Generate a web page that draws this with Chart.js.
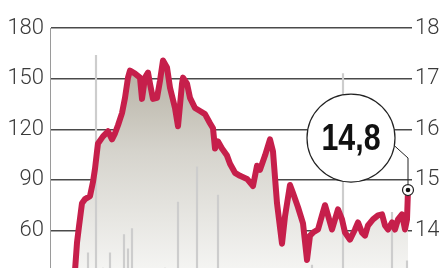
<!DOCTYPE html>
<html>
<head>
<meta charset="utf-8">
<script src="https://cdn.jsdelivr.net/npm/chart.js@4"></script>
<style>
  html, body { margin: 0; padding: 0; background: #ffffff; width: 439px; height: 268px; overflow: hidden; }
  #wrap { width: 439px; height: 351px; }
</style>
</head>
<body>
<div id="wrap"><canvas id="c" width="439" height="351"></canvas></div>
<script>
// ---- data ----
const days   = [24, 27, 29, 32, 35, 40, 43, 45, 47, 48, 53, 58, 62, 65, 68, 72, 75, 78, 80, 85, 90, 92, 95, 98, 100, 103, 107, 110, 113, 117, 120, 125, 128, 132, 133, 137, 140, 145, 150, 155, 160, 163, 165, 168, 172, 177, 180, 185, 190, 197, 203, 207, 210, 215, 220, 223, 227, 232, 235, 240, 243, 248, 253, 257, 260, 263, 268, 272, 275, 278, 282, 285, 288, 292, 295, 300, 305, 308, 312, 315, 318, 323, 328, 332, 335, 338, 342, 345, 348, 352, 355, 357, 358];
const prices = [28, 52.8, 62.4, 76.2, 78.6, 80.4, 88.8, 96.6, 106.8, 111.6, 115.8, 118.8, 114, 117.6, 122.4, 129.6, 138.6, 150.6, 154.8, 153, 150.6, 138, 150.6, 153.6, 147, 138, 138.6, 148.8, 160.8, 156.6, 144.6, 132.6, 121.8, 147, 150.6, 147, 138.6, 132.6, 130.8, 129, 123.6, 120.6, 108.6, 112.8, 108.6, 104.4, 99.6, 94.2, 92.4, 90.6, 86.4, 98.4, 96, 104.4, 114, 106.8, 76.2, 52.2, 68.4, 87, 82.2, 73.8, 64.2, 42.6, 57, 58.8, 60.6, 69, 75, 69, 60.6, 66.6, 72.6, 66.6, 58.8, 54.6, 60.6, 64.8, 58.8, 57, 63, 66.6, 69, 69.6, 63, 60.6, 64.8, 60.6, 66.6, 69.6, 60.6, 66.6, 84];
const volumeDays = [38, 46, 53, 60, 74, 78, 82, 115, 128, 147, 168, 262, 293, 342, 357];
const volumes    = [46.8, 163.8, 37.8, 46.8, 57.6, 49.2, 61.2, 37.8, 76.8, 97.8, 81, 39.6, 153, 70.8, 42];
const leftTicks  = [0, 30, 60, 90, 120, 150, 180];
const rightTicks = [13, 14, 15, 16, 17, 18];

const linePts = days.map((d, i) => ({ x: d, y: prices[i] }));
const volPts  = volumeDays.map((d, i) => ({ x: d, y: volumes[i] }));

const RED = '#c61f4b';
const TICKFONT = "Roboto, 'Liberation Sans', sans-serif";
const BOLDFONT = "'Liberation Sans', Arial, sans-serif";

const callout = {
  id: 'callout',
  afterDatasetsDraw(chart) {
    const ctx = chart.ctx;
    const meta = chart.getDatasetMeta(0);
    const last = meta.data[meta.data.length - 1];
    const px = last.x, py = last.y;
    const cx = px - 57, cy = py - 52, r = 44;
    const rightVal = chart.scales.yR.getValueForPixel(py);
    const label = rightVal.toFixed(1).replace('.', ',');
    ctx.save();
    const a = 10 * Math.PI / 180;
    ctx.strokeStyle = '#222';
    ctx.lineWidth = 1;
    ctx.beginPath();
    ctx.moveTo(cx + r * Math.cos(a), cy + r * Math.sin(a));
    ctx.lineTo(px, py - 32);
    ctx.lineTo(px, py - 5);
    ctx.stroke();
    ctx.beginPath();
    ctx.arc(cx, cy, r, 0, Math.PI * 2);
    ctx.fillStyle = '#ffffff';
    ctx.fill();
    ctx.strokeStyle = '#222';
    ctx.lineWidth = 1.2;
    ctx.stroke();
    ctx.save();
    ctx.translate(cx, cy + 2);
    ctx.scale(0.82, 1);
    ctx.fillStyle = '#111';
    ctx.font = "bold 37px " + BOLDFONT;
    ctx.textAlign = 'center';
    ctx.textBaseline = 'middle';
    ctx.fillText(label, 0, 0);
    ctx.restore();
    ctx.beginPath();
    ctx.arc(px, py, 5.5, 0, Math.PI * 2);
    ctx.fillStyle = '#ffffff';
    ctx.fill();
    ctx.lineWidth = 1.2;
    ctx.strokeStyle = '#222';
    ctx.stroke();
    ctx.beginPath();
    ctx.arc(px, py, 2.3, 0, Math.PI * 2);
    ctx.fillStyle = '#111';
    ctx.fill();
    ctx.restore();
  }
};

new Chart(document.getElementById('c'), {
  data: {
    datasets: [
      {
        type: 'line', data: linePts, yAxisID: 'y', order: 0,
        borderColor: RED, borderWidth: 6, borderJoinStyle: 'round', borderCapStyle: 'round',
        pointRadius: 0, fill: false, tension: 0
      },
      {
        type: 'bar', data: volPts, yAxisID: 'yv', order: 1,
        backgroundColor: '#cdcdcd', barThickness: 1.5, borderWidth: 0
      },
      {
        type: 'line', data: linePts, yAxisID: 'y', order: 2,
        borderWidth: 0, pointRadius: 0, tension: 0, fill: 'start',
        backgroundColor: (ctx) => {
          const ca = ctx.chart.chartArea;
          if (!ca) return '#d0cdc4';
          const g = ctx.chart.ctx.createLinearGradient(0, ca.top + 30, 0, ca.top + 240);
          g.addColorStop(0, '#b3aea0');
          g.addColorStop(0.45, '#d6d4cd');
          g.addColorStop(1, '#f4f4f2');
          return g;
        }
      }
    ]
  },
  options: {
    responsive: false,
    animation: false,
    events: [],
    layout: { padding: { top: 28, bottom: 2, left: 0, right: 0 } },
    plugins: { legend: { display: false }, tooltip: { enabled: false } },
    scales: {
      x: { type: 'linear', min: 0, max: 362, offset: false, display: false, grid: { offset: false } },
      y: {
        position: 'left', min: 0, max: 180,
        afterBuildTicks: (s) => { s.ticks = leftTicks.map(v => ({ value: v })); },
        afterFit: (s) => { s.width = 50; },
        grid: { color: '#4a4a4a', lineWidth: 1.5, drawTicks: false },
        border: { display: true, color: '#9a9a9a', width: 1 },
        ticks: { color: '#3a3a3a', padding: 6, font: { family: TICKFONT, size: 22, weight: 300 } }
      },
      yR: {
        position: 'right', min: 12, max: 18,
        afterBuildTicks: (s) => { s.ticks = rightTicks.map(v => ({ value: v })); },
        afterFit: (s) => { s.width = 27; },
        grid: { display: false, drawTicks: false },
        border: { display: false },
        ticks: { color: '#3a3a3a', padding: 3, font: { family: TICKFONT, size: 22, weight: 300 } }
      },
      yv: { min: 0, max: 180, display: false }
    }
  },
  plugins: [callout]
});
</script>
</body>
</html>
